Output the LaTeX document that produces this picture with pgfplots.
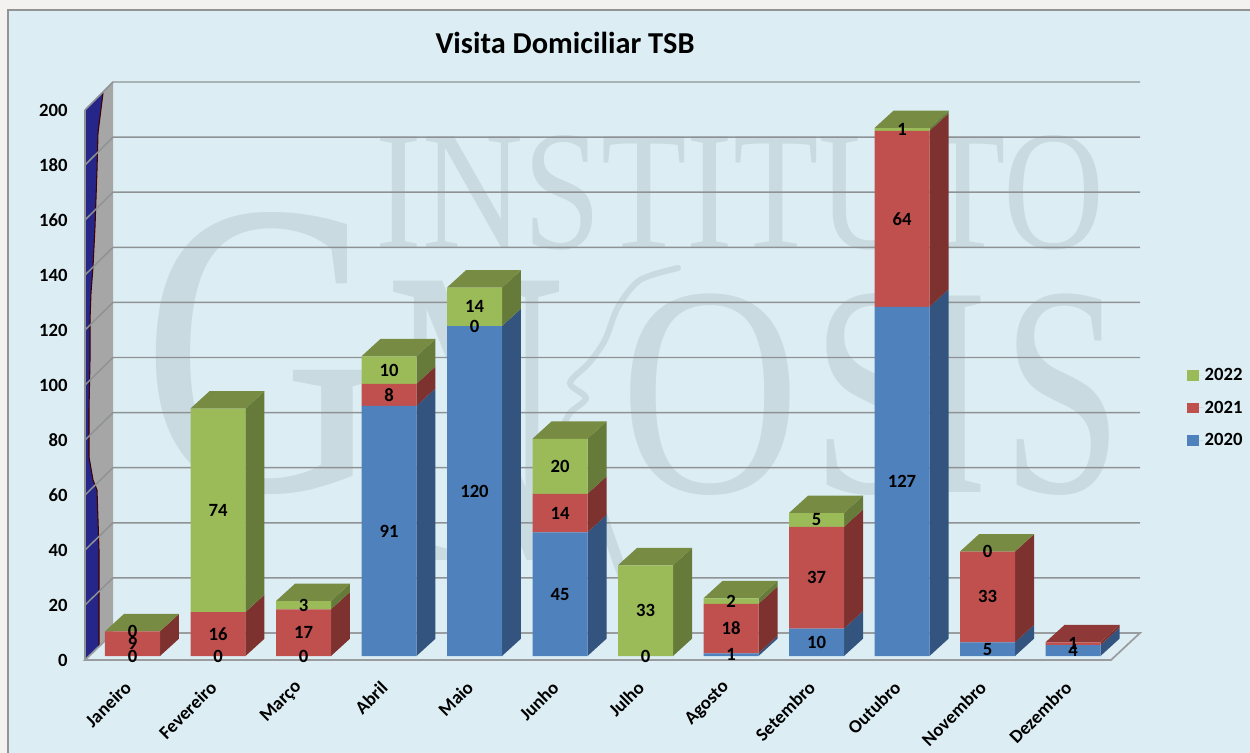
\documentclass[border=0pt]{standalone}
\usepackage{pgfplots}
\pgfplotsset{compat=1.18}
\usepackage{fontspec}
\setmainfont{Carlito}
\newfontfamily\wmfont{Liberation Serif}
\definecolor{panel}{HTML}{DCEEF4}
\definecolor{outer}{HTML}{F3F2F0}
\definecolor{wm}{HTML}{C9DBE1}
\definecolor{gridc}{HTML}{8F9294}
\definecolor{wallc}{HTML}{A6A6A6}
\definecolor{bluef}{HTML}{4F81BD}\definecolor{blues}{HTML}{32547E}
\definecolor{redf}{HTML}{C0504D}\definecolor{reds}{HTML}{7D3230}\definecolor{redt}{HTML}{8E3838}
\definecolor{greenf}{HTML}{9BBB59}\definecolor{greens}{HTML}{667B3A}\definecolor{greent}{HTML}{778B42}
\newcommand\lab{\fontsize{14}{16}\selectfont\bfseries}
\newcommand\wmark[5]{\node[anchor=base,inner sep=0pt,text=wm] at (#1,#2) {\wmfont\fontsize{#4}{#4}\selectfont\scalebox{#3}[1]{#5}};}
% side face of a stacked segment: bar index, lower sum, upper sum, colour
\newcommand\seg[4]{%
  \pgfmathsetmacro\xa{#1+0.3216}\pgfmathsetmacro\xb{#1+0.5438}%
  \pgfmathsetmacro\ya{#2+6.3}\pgfmathsetmacro\yb{#3+6.3}%
  \addplot[fill=#4,draw=none,forget plot] coordinates {(\xa,#2)(\xb,\ya)(\xb,\yb)(\xa,#3)};}
% top face of a stack: bar index, sum, colour
\newcommand\topf[3]{%
  \pgfmathsetmacro\xa{#1-0.3216}\pgfmathsetmacro\xb{#1+0.3216}%
  \pgfmathsetmacro\xc{#1+0.5438}\pgfmathsetmacro\xd{#1-0.0994}\pgfmathsetmacro\yb{#2+6.3}%
  \addplot[fill=#3,draw=none,forget plot] coordinates {(\xa,#2)(\xb,#2)(\xc,\yb)(\xd,\yb)};}
\pgfplotsset{base/.style={at={(67.3125pt,-492pt)},anchor=south west,scale only axis,
  width=769.5pt,height=412.5pt,xmin=-0.5,xmax=11.5,ymin=0,ymax=200,clip=false}}
\begin{document}
\begin{tikzpicture}[x=0.75pt,y=-0.75pt]
\useasboundingbox (0,0) rectangle (1250,753);
\fill[outer] (0,0) rectangle (1250,753);
\fill[panel] (8,10) rectangle (1250,753);
\draw[gray!85,line width=1.2pt] (8,753) -- (8,10) -- (1250,10);
% watermark
\wmark{740}{248}{0.82}{128}{INSTITUTO}
\wmark{264}{490}{0.8}{315}{G}
\wmark{476}{560}{0.58}{320}{N}
\wmark{710}{492}{0.83}{225}{O}
\wmark{873}{492}{0.72}{225}{S}
\wmark{956}{492}{0.62}{225}{I}
\wmark{1063}{492}{0.72}{225}{S}
\draw[wm,line width=4.5pt,line cap=round] plot[smooth] coordinates {(678,268)(640,280)(618,307)(605,340)(589,363)(570,383)(586,398)(570,413)(560,432)};
\draw[wm,line width=8pt] (592,487) -- (628,590);
% walls and grid
\fill[wallc] (85,110) -- (113,82) -- (113,633) -- (85,660) -- cycle;
\fill[fill=blue!45!black!85!white,draw=none] (85,110) -- (103,93) -- (98,133) -- (97,170) -- (95,227) -- (93,267) -- (91,293) -- (90,320) -- (90,360) -- (89,410) -- (89,457) -- (93,480) -- (97,490) -- (99,550) -- (99,647) -- (85,660) -- cycle;
\draw[black!30!red!35!black,line width=0.8pt] (103,93) -- (98,133) -- (97,170) -- (95,227) -- (93,267) -- (91,293) -- (90,320) -- (90,360) -- (89,410) -- (89,457) -- (93,480) -- (97,490) -- (99,550) -- (99,647);
\foreach \k in {0,...,9} {
  \draw[gridc,line width=1.1pt] (85,{110+55*\k}) -- (113,{82+55.1*\k}) -- (1140,{82+55.1*\k});
}
\draw[gridc,line width=0.9pt] (85,110) -- (85,660);
\draw[gridc!90!white,line width=1.3pt] (85,660) -- (113,633) -- (1140,633) -- (1111,660) -- cycle;
\node[anchor=base,inner sep=0pt] at (565,53) {\fontsize{22.8}{26}\selectfont\bfseries Visita Domiciliar TSB};
% side and top faces
\begin{axis}[base,hide axis]
\seg{0}{0}{9}{reds} \topf{0}{9}{greent}
\seg{1}{0}{16}{reds} \seg{1}{16}{90}{greens} \topf{1}{90}{greent}
\seg{2}{0}{17}{reds} \seg{2}{17}{20}{greens} \topf{2}{20}{greent}
\seg{3}{0}{91}{blues} \seg{3}{91}{99}{reds} \seg{3}{99}{109}{greens} \topf{3}{109}{greent}
\seg{4}{0}{120}{blues} \seg{4}{120}{134}{greens} \topf{4}{134}{greent}
\seg{5}{0}{45}{blues} \seg{5}{45}{59}{reds} \seg{5}{59}{79}{greens} \topf{5}{79}{greent}
\seg{6}{0}{33}{greens} \topf{6}{33}{greent}
\seg{7}{0}{1}{blues} \seg{7}{1}{19}{reds} \seg{7}{19}{21}{greens} \topf{7}{21}{greent}
\seg{8}{0}{10}{blues} \seg{8}{10}{47}{reds} \seg{8}{47}{52}{greens} \topf{8}{52}{greent}
\seg{9}{0}{127}{blues} \seg{9}{127}{191}{reds} \seg{9}{191}{192}{greens} \topf{9}{192}{greent}
\seg{10}{0}{5}{blues} \seg{10}{5}{38}{reds} \topf{10}{38}{greent}
\seg{11}{0}{4}{blues} \seg{11}{4}{5}{reds} \topf{11}{5}{redt}
\end{axis}
% front faces, ticks, legend
\begin{axis}[base,ybar stacked,bar width=41.25pt,
  axis line style={draw=none},tick style={draw=none},major tick length=0pt,
  xtick={0,...,11},
  xticklabels={Janeiro,Fevereiro,Março,Abril,Maio,Junho,Julho,Agosto,Setembro,Outubro,Novembro,Dezembro},
  ytick={0,20,...,200},
  /pgf/number format/assume math mode=true,
  tick label style={font=\lab},
  yticklabel style={anchor=east,inner sep=0pt,xshift=-16.5pt,yshift=-3pt},
  xticklabel style={rotate=45,anchor=east,inner sep=0pt,yshift=-12.6pt,xshift=-17.4pt},
  legend cell align=left,
  legend style={draw=none,fill=none,font=\lab,at={(1.0695,0.451)},anchor=west,
    row sep=11.75pt,inner sep=0pt,nodes={inner sep=1pt}},
  legend image code/.code={\path[#1,draw=none] (0pt,-4pt) rectangle (8.5pt,4pt);\path (0pt,0pt) -- (12pt,0pt);},
  reverse legend]
\addplot[fill=bluef,draw=none] coordinates {(0,0)(1,0)(2,0)(3,91)(4,120)(5,45)(6,0)(7,1)(8,10)(9,127)(10,5)(11,4)};
\addplot[fill=redf,draw=none] coordinates {(0,9)(1,16)(2,17)(3,8)(4,0)(5,14)(6,0)(7,18)(8,37)(9,64)(10,33)(11,1)};
\addplot[fill=greenf,draw=none] coordinates {(0,0)(1,74)(2,3)(3,10)(4,14)(5,20)(6,33)(7,2)(8,5)(9,1)(10,0)(11,0)};
\legend{2020,2021,2022}
\end{axis}
% data labels
\begin{axis}[base,hide axis]
\addplot[draw=none,mark=none,nodes near coords,point meta=explicit symbolic,
  every node near coord/.append style={font=\lab,anchor=center,inner sep=0pt,text=black}]
 table[meta=label,row sep=\\] {
x y label\\
0 0 0\\ 0 4.5 9\\ 0 9 0\\
1 0 0\\ 1 8 16\\ 1 53 74\\
2 0 0\\ 2 8.5 17\\ 2 18.5 3\\
3 45.5 91\\ 3 95 8\\ 3 104 10\\
4 60 120\\ 4 120 0\\ 4 127 14\\
5 22.5 45\\ 5 52 14\\ 5 69 20\\
6 0 0\\ 6 16.5 33\\
7 0.5 1\\ 7 10 18\\ 7 20 2\\
8 5 10\\ 8 28.5 37\\ 8 49.5 5\\
9 63.5 127\\ 9 159 64\\ 9 191.5 1\\
10 2.5 5\\ 10 21.5 33\\ 10 38 0\\
11 2 4\\ 11 4.5 1\\
};
\end{axis}
\end{tikzpicture}
\end{document}
